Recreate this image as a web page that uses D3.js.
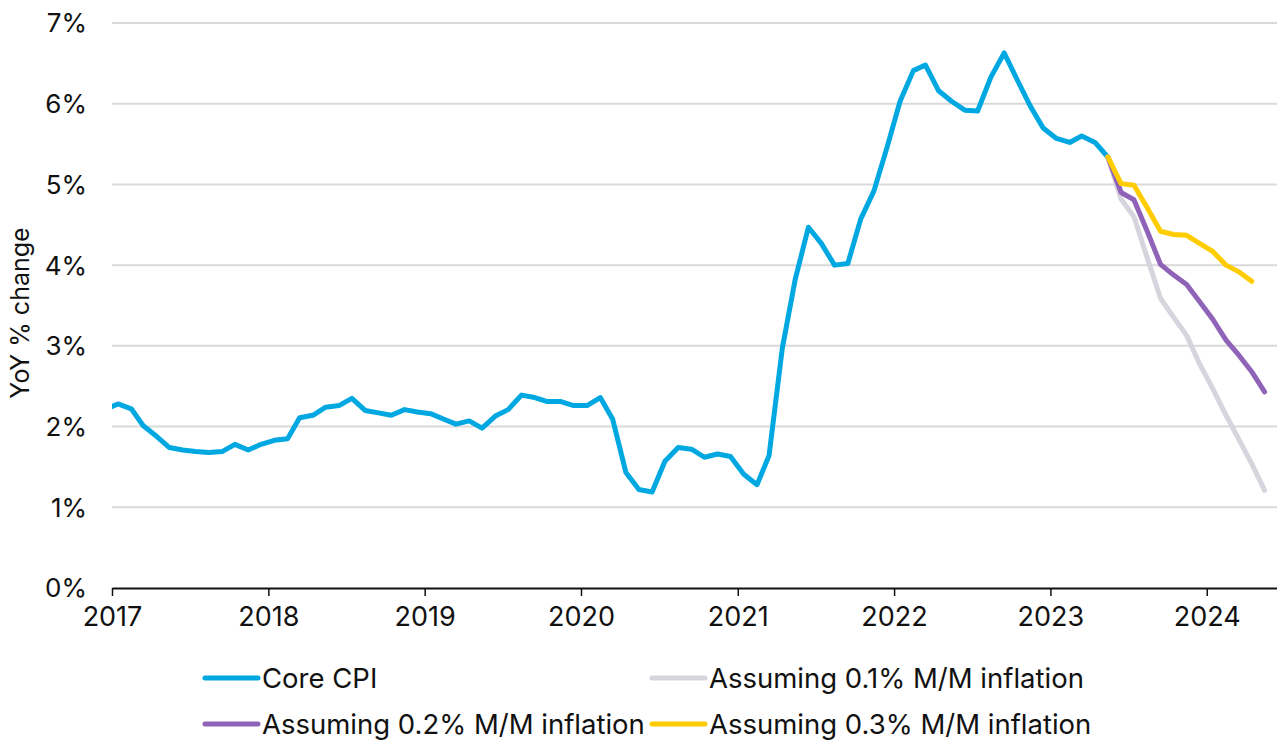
<!DOCTYPE html>
<html>
<head>
<meta charset="utf-8">
<script src="https://cdn.jsdelivr.net/npm/d3@7"></script>
<style>
  body { margin: 0; background: #fff; }
  svg { display: block; font-family: Inter, Roboto, sans-serif; }
</style>
</head>
<body>
<script>
// monthly YoY core CPI, Dec 2016 .. May 2023 (mid-month points)
var coreStart = "2016-12";
var coreValues = [
    2.21,
    2.28, 2.22, 2.01, 1.88, 1.74, 1.71, 1.69, 1.68, 1.69, 1.78, 1.71, 1.78,
    1.83, 1.85, 2.11, 2.14, 2.24, 2.26, 2.35, 2.20, 2.17, 2.14, 2.21, 2.18,
    2.16, 2.09, 2.03, 2.07, 1.98, 2.13, 2.21, 2.39, 2.36, 2.31, 2.31, 2.26,
    2.26, 2.36, 2.09, 1.43, 1.22, 1.19, 1.57, 1.74, 1.72, 1.62, 1.66, 1.63,
    1.41, 1.28, 1.64, 2.97, 3.82, 4.47, 4.27, 4.00, 4.02, 4.57, 4.92, 5.45,
    6.03, 6.41, 6.48, 6.16, 6.03, 5.92, 5.91, 6.33, 6.63, 6.30, 5.97, 5.70,
    5.57, 5.52, 5.60, 5.52, 5.34
];

// projections, all starting from May 2023
var projStart = "2023-05";
var proj01 = [5.34, 4.82, 4.60, 4.09, 3.59, 3.36, 3.13, 2.78, 2.47, 2.14, 1.85, 1.54, 1.21];
var proj02 = [5.34, 4.90, 4.81, 4.42, 4.01, 3.88, 3.76, 3.55, 3.33, 3.07, 2.89, 2.68, 2.43];
var proj03 = [5.34, 5.01, 4.99, 4.71, 4.42, 4.38, 4.37, 4.27, 4.17, 4.00, 3.92, 3.80];

var yTicks = [0, 1, 2, 3, 4, 5, 6, 7];
var yearTicks = [2017, 2018, 2019, 2020, 2021, 2022, 2023, 2024];

var seriesNames = ["Core CPI", "Assuming 0.1% M/M inflation",
                   "Assuming 0.2% M/M inflation", "Assuming 0.3% M/M inflation"];
var seriesColors = ["#00a8e1", "#d6d5de", "#8f63b8", "#ffcc00"];

var W = 1277, H = 740;
var plot = {left: 112, right: 1277, top: 23, bottom: 588};

var parseMonth = d3.timeParse("%Y-%m");

// turn a start month + list of values into points at mid-month
function toPoints(start, values) {
    var s = parseMonth(start);
    return values.map(function(v, i) {
        var d = d3.timeMonth.offset(s, i);
        return { date: d3.timeDay.offset(d, 14), value: v };
    });
}

var series = [
    toPoints(coreStart, coreValues),
    toPoints(projStart, proj01),
    toPoints(projStart, proj02),
    toPoints(projStart, proj03)
];

var x = d3.scaleTime()
    .domain([new Date(2017, 0, 1), new Date(2024, 5, 13)])
    .range([plot.left, plot.right]);

var y = d3.scaleLinear()
    .domain([0, 7])
    .range([plot.bottom, plot.top]);

var svg = d3.select("body").append("svg")
    .attr("width", W)
    .attr("height", H);

svg.append("defs").append("clipPath")
    .attr("id", "plotclip")
    .append("rect")
    .attr("x", plot.left).attr("y", 0)
    .attr("width", plot.right - plot.left).attr("height", plot.bottom);

// gridlines
svg.append("g")
    .selectAll("line")
    .data(yTicks.filter(function(d) { return d > 0; }))
    .enter().append("line")
    .attr("x1", plot.left).attr("x2", plot.right)
    .attr("y1", function(d) { return y(d); })
    .attr("y2", function(d) { return y(d); })
    .attr("stroke", "#d9d9d9")
    .attr("stroke-width", 2);

// y labels
svg.append("g")
    .selectAll("text")
    .data(yTicks)
    .enter().append("text")
    .attr("x", 87)
    .attr("y", function(d) { return y(d); })
    .attr("dy", "0.36em")
    .attr("text-anchor", "end")
    .attr("font-size", 26)
    .attr("fill", "#111")
    .text(function(d) { return d + "%"; });

svg.append("text")
    .attr("transform", "translate(29,313) rotate(-90)")
    .attr("text-anchor", "middle")
    .attr("font-size", 25)
    .attr("fill", "#111")
    .text("YoY % change");

// x axis
var xAxis = d3.axisBottom(x)
    .tickValues(yearTicks.map(function(yr) { return new Date(yr, 0, 1); }))
    .tickFormat(d3.timeFormat("%Y"))
    .tickSizeInner(8)
    .tickSizeOuter(0)
    .tickPadding(11);

var gx = svg.append("g")
    .attr("transform", "translate(0," + plot.bottom + ")")
    .call(xAxis);
gx.select(".domain").attr("stroke", "#111").attr("stroke-width", 2);
gx.selectAll(".tick line").attr("stroke", "#111").attr("stroke-width", 1.5);
gx.selectAll(".tick text")
    .attr("font-size", 27)
    .attr("font-family", "Inter, Roboto, sans-serif")
    .attr("fill", "#111");

// lines
var line = d3.line()
    .x(function(d) { return x(d.date); })
    .y(function(d) { return y(d.value); });

svg.append("g")
    .attr("clip-path", "url(#plotclip)")
    .selectAll("path")
    .data(series)
    .enter().append("path")
    .attr("d", line)
    .attr("fill", "none")
    .attr("stroke", function(d, i) { return seriesColors[i]; })
    .attr("stroke-width", 5)
    .attr("stroke-linejoin", "round")
    .attr("stroke-linecap", "round");

// legend: 2 x 2
var legend = svg.append("g");
var item = legend.selectAll("g")
    .data(seriesNames)
    .enter().append("g")
    .attr("transform", function(d, i) {
        var lx = (i % 2 === 0) ? 203 : 650;
        var ly = (i < 2) ? 678 : 724;
        return "translate(" + lx + "," + ly + ")";
    });

item.append("line")
    .attr("x1", 2).attr("x2", 55)
    .attr("y1", 0).attr("y2", 0)
    .attr("stroke", function(d, i) { return seriesColors[i]; })
    .attr("stroke-width", 5)
    .attr("stroke-linecap", "round");

item.append("text")
    .attr("x", 59)
    .attr("dy", "0.36em")
    .attr("font-size", 27.5)
    .attr("fill", "#111")
    .text(function(d) { return d; });
</script>
</body>
</html>
